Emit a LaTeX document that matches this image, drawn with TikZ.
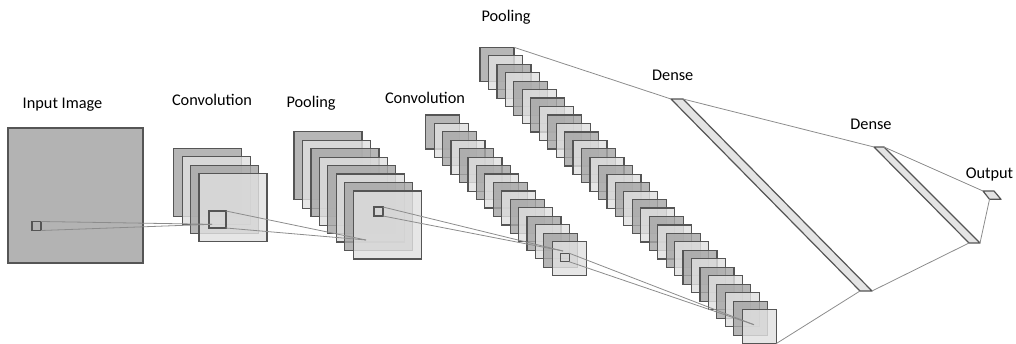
\documentclass[tikz,border=0pt]{standalone}
\usepackage{fontspec}
\setmainfont{Carlito}

\definecolor{edgegray}{RGB}{85,85,85}
\definecolor{darkfill}{RGB}{166,166,166}
\definecolor{lightfill}{RGB}{224,224,224}
\definecolor{inputfill}{RGB}{179,179,179}
\definecolor{wiregray}{RGB}{140,140,140}
\definecolor{barfill}{RGB}{228,228,228}

% stack of feature maps: name, left, top, size, step, count
\newcommand\fmstack[6]{%
  \foreach \i in {1,...,#6}{%
    \pgfmathsetmacro\cx{#2+(\i-1)*#5+#4/2}%
    \pgfmathsetmacro\cy{#3+(\i-1)*#5+#4/2}%
    \ifodd\i\def\mapcol{darkfill}\else\def\mapcol{lightfill}\fi
    \node[mapsq, fill=\mapcol, minimum size=#4pt] (#1-\i) at (\cx,\cy) {};
  }%
}

\begin{document}
\begin{tikzpicture}[x=1pt,y=-1pt,
  mapsq/.style={draw=edgegray, line width=1.2pt, fill opacity=0.82,
    inner sep=0pt, outer sep=0pt},
  inputsq/.style={draw=edgegray, line width=1.2pt, fill=inputfill,
    inner sep=0pt, outer sep=0pt},
  focus/.style={draw=edgegray, line width=1.2pt, inner sep=0pt, outer sep=0pt},
  wire/.style={draw=wiregray, line width=0.8pt},
  densebar/.style={draw=edgegray, line width=1.2pt, fill=barfill, line join=round},
  lbl/.style={anchor=base, inner sep=0pt, font=\fontsize{16.3}{19}\selectfont}
]
\useasboundingbox (0,0) rectangle (1016,343);

% labels
\node[lbl] (t-in)  at (62.5,108.3) {Input Image};
\node[lbl] (t-c1)  at (212,105.7)  {Convolution};
\node[lbl] (t-p1)  at (311,107.3)  {Pooling};
\node[lbl] (t-c2)  at (425,103.3)  {Convolution};
\node[lbl] (t-p2)  at (506,21.3)   {Pooling};
\node[lbl] (t-d1)  at (672.7,80.7) {Dense};
\node[lbl] (t-d2)  at (871,129.3)  {Dense};
\node[lbl] (t-out) at (989.5,178)  {Output};

% input image
\node[inputsq, minimum width=135pt, minimum height=135pt] (img) at (75.5,195.5) {};

% feature map stacks
\fmstack{c1}{173.7}{148.3}{68}{8.43}{4}
\fmstack{p1}{294}{131.7}{68}{8.47}{8}
\fmstack{c2}{425.7}{115}{34}{8.44}{16}
\fmstack{p2}{480}{47.3}{34}{8.46}{32}

% receptive field windows
\node[focus, minimum size=9pt]   (in-f) at (36.5,226) {};
\node[focus, minimum size=17pt]  (c1-f) at (217.5,219.5) {};
\node[focus, minimum size=9pt]   (p1-f) at (378.5,211.5) {};
\node[focus, minimum size=8.5pt] (c2-f) at (565,257.5) {};

% points where the windows project into the next layer
\coordinate (k1) at (212,224.3);
\coordinate (k2) at (366,240);
\coordinate (k3) at (563,251);
\coordinate (k4) at (754,324.7);

% dense layers and output
\coordinate (d1a) at (671,99);   \coordinate (d1b) at (683,99);
\coordinate (d1c) at (872,291);  \coordinate (d1d) at (860,291);
\coordinate (d2a) at (874,147);  \coordinate (d2b) at (884,147);
\coordinate (d2c) at (980,243);  \coordinate (d2d) at (969,243);
\coordinate (oa) at (983,191);   \coordinate (ob) at (994,191);
\coordinate (oc) at (1001,199.3); \coordinate (od) at (989.5,199.3);

\draw[densebar] (d1a) -- (d1b) -- (d1c) -- (d1d) -- cycle;
\draw[densebar] (d2a) -- (d2b) -- (d2c) -- (d2d) -- cycle;
\draw[densebar] (oa) -- (ob) -- (oc) -- (od) -- cycle;

% projection lines
\draw[wire] (in-f.north east) -- (k1);
\draw[wire] (in-f.south east) -- (k1);
\draw[wire] (c1-f.north east) -- (k2);
\draw[wire] (c1-f.south east) -- (k2);
\draw[wire] (p1-f.north east) -- (k3);
\draw[wire] (p1-f.south east) -- (k3);
\draw[wire] (c2-f.north east) -- (k4);
\draw[wire] (c2-f.south east) -- (k4);

% fully connected links
\draw[wire] (p2-1.north east) -- (d1a);
\draw[wire] (p2-32.south east) -- (d1d);
\draw[wire] (d1b) -- (d2a);
\draw[wire] (d1c) -- (d2d);
\draw[wire] (d2b) -- (oa);
\draw[wire] (d2c) -- (od);
\end{tikzpicture}
\end{document}
